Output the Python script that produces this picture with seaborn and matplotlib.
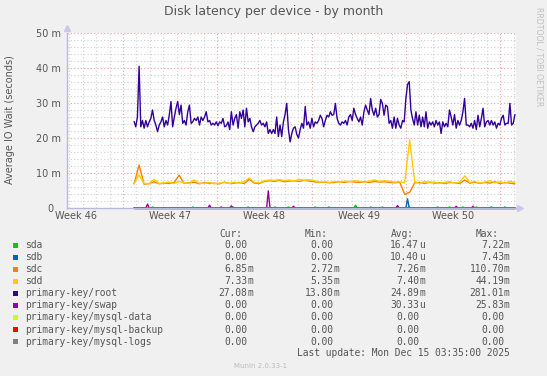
import numpy as np
import matplotlib.pyplot as plt
import seaborn as sns
from matplotlib.patches import Rectangle
from matplotlib.ticker import FixedLocator, MultipleLocator
from matplotlib.transforms import blended_transform_factory

sns.set_theme(style="white")
plt.rcParams['font.family'] = ['DejaVu Sans']

W, H = 547, 376

# time axis: days counted from monday of week 46
x_left, x_right = 2.84, 36.18
data_start, data_end = 7.82, 36.1
week_numbers = [46, 47, 48, 49, 50]
week_starts = [7, 14, 21, 28, 35]

# values in milliseconds (about every 3 hours)
root = [24.7, 23.2, 26, 40.5, 23.2, 25, 22.8, 25, 23.2, 24.6,
        25.6, 28, 25, 23.7, 21.8, 23.7, 24.6, 26, 23.2, 25,
        23.7, 26.6, 30.4, 23.2, 26, 28.5, 30.4, 26.7, 29.4, 24.2,
        25, 23.7, 27.5, 29.4, 24.2, 24.6, 25.6, 25, 26, 23.7,
        26, 25, 26, 27.5, 24.6, 25, 23.7, 24.2, 23.7, 24.6,
        23.5, 24.6, 24.2, 25.6, 23.2, 23.5, 24.6, 22.4, 27.5, 23.7,
        25.6, 26.7, 22.8, 27.5, 25.6, 28, 23.2, 28.5, 24.6, 25.6,
        23.2, 21.8, 23.2, 23.7,
        24.2, 25, 23.7, 24.2, 23.2, 24.6, 21.3, 22.4, 21.3, 22.4,
        21.3, 26, 20.4, 23.7, 20.4, 24.6, 26.7, 29.9, 22.4, 18.9,
        21.3, 22.8, 23.2, 21, 20, 22.4, 24.2, 22.8, 29, 23.7,
        24.6, 22.8, 25.6, 23.2, 24.6, 24.2, 25, 26.5, 25.6, 23.2,
        25, 26.5, 26, 27.5, 26.5, 26.7, 29.9, 25.6, 24.2, 23.7,
        24.6, 24.2, 25, 23.7, 26, 26.7, 25, 28.5, 26.7, 25.6,
        24.6, 26, 23.7, 27.5, 29.4, 28, 26.7, 31.3, 28, 26.5,
        28.5, 26, 26.7, 31, 29.9, 26.5, 29.4, 29,
        24.2, 25, 22.8, 26, 22.8, 25.6, 23.7, 22.8, 25, 24.6,
        31.3, 35.3, 36.1, 28, 25.5, 23.7, 27.5, 23.7, 26.5, 23.2,
        26, 23.2, 27.5, 22.8, 24.6, 23.7, 24.6, 23.2, 25, 23.7,
        24.6, 21.3, 24.6, 23.2, 24.2, 23.2, 28, 26, 23.7, 26.7,
        22.8, 25, 23.7, 25, 27.5, 31.3, 23.7, 23.7, 23.2, 24.2,
        22.8, 25, 22.4, 26.5, 23.2, 25.6, 28.5, 23.2, 24.6, 25,
        23.7, 25, 23.7, 24.6, 22.8, 24.2, 23.7, 25.6, 26.5, 23.7,
        24.2, 24.2, 29.9, 23.7, 24.2, 26.7]

# sdc / sdd about every 9 hours
sdc = [6.9, 12.3, 6.8, 7.0, 7.5, 6.9, 7.1, 7.0, 7.3, 9.4,
       7.0, 7.2, 7.4, 6.9, 7.2, 7.0, 7.1, 6.9, 7.4, 7.0,
       7.1, 7.3, 7.0, 8.2, 7.1, 7.0, 7.6, 7.8, 7.6, 7.9,
       7.5, 7.7, 7.8, 7.6, 7.9, 7.7, 7.5, 7.3, 7.4, 7.2,
       7.3, 7.5, 7.3, 7.6, 7.4, 7.3, 7.5, 7.3, 7.6, 7.4,
       7.5, 7.3, 7.2, 7.4, 3.9, 4.5, 7.2, 7.3, 7.0, 7.4,
       7.1, 7.2, 7.0, 7.3, 7.2, 7.0, 8.0, 7.1, 7.4, 7.0,
       7.3, 7.1, 7.5, 7.0, 7.3, 7.1, 6.9]
sdd = [7.0, 9.5, 7.0, 6.9, 8.2, 7.0, 7.2, 7.4, 7.0, 7.6,
       7.2, 7.0, 8.0, 7.1, 7.0, 7.3, 6.9, 7.1, 7.3, 7.0,
       7.4, 7.1, 7.6, 8.6, 7.3, 7.2, 7.8, 8.0, 7.9, 8.1,
       7.8, 8.0, 7.7, 8.2, 7.9, 8.1, 7.8, 7.4, 7.5, 7.3,
       7.6, 7.4, 7.7, 7.5, 7.8, 7.6, 7.4, 7.7, 8.0, 7.6,
       7.8, 7.6, 7.4, 7.5, 7.2, 19.4, 7.5, 7.0, 7.6, 7.2,
       7.4, 7.0, 7.3, 7.5, 7.1, 7.4, 9.2, 7.3, 7.6, 7.1,
       7.4, 7.8, 7.2, 7.5, 7.1, 7.6, 7.3]

# short blips on the zero line (day, value)
swap_day = [8.86, 13.46, 14.28, 15.09, 17.76, 19.62, 27.42, 31.72, 32.98]
swap_val = [1.1, 0.8, 0.3, 0.6, 4.9, 0.5, 0.7, 0.5, 0.5]
sdb_day = [28.08]
sdb_val = [2.6]
sda_day = [9.23, 12.2, 15.17, 16.28, 18.28, 19.25, 21.25, 22.22, 24.22, 25.34,
           26.3, 27.42, 28.3, 30.31, 31.28, 32.24, 33.28, 34.39, 35.36]
sda_val = [0.3, 0.3, 0.3, 0.3, 0.3, 0.3, 0.3, 0.3, 0.8, 0.3,
           0.3, 0.3, 0.3, 0.3, 0.3, 0.3, 0.3, 0.3, 0.3]

names = ["sda", "sdb", "sdc", "sdd", "primary-key/root", "primary-key/swap",
         "primary-key/mysql-data", "primary-key/mysql-backup", "primary-key/mysql-logs"]
colors = ["#00CC00", "#0066B3", "#FF8000", "#FFCC00", "#330099", "#990099",
          "#CCFF00", "#FF0000", "#808080"]
cur_vals = ["0.00", "0.00", "6.85m", "7.33m", "27.08m", "0.00", "0.00", "0.00", "0.00"]
min_vals = ["0.00", "0.00", "2.72m", "5.35m", "13.80m", "0.00", "0.00", "0.00", "0.00"]
avg_vals = ["16.47u", "10.40u", "7.26m", "7.40m", "24.89m", "30.33u", "0.00", "0.00", "0.00"]
max_vals = ["7.22m", "7.43m", "110.70m", "44.19m", "281.01m", "25.83m", "0.00", "0.00", "0.00"]
y_ticks = [0, 10, 20, 30, 40, 50]

t_fine = np.linspace(data_start, data_end, len(root))
t_coarse = np.linspace(data_start, data_end, len(sdd))


def blips(days, vals):
    s = np.zeros(len(t_fine))
    for d, v in zip(days, vals):
        s[np.abs(t_fine - d).argmin()] = v
    return s


series = [
    (t_fine, blips(sda_day, sda_val)),
    (t_fine, blips(sdb_day, sdb_val)),
    (t_coarse, np.array(sdc)),
    (t_coarse, np.array(sdd)),
    (t_fine, np.array(root)),
    (t_fine, blips(swap_day, swap_val)),
    (t_coarse, np.zeros(len(t_coarse))),
    (t_coarse, np.zeros(len(t_coarse))),
    (t_coarse, np.zeros(len(t_coarse))),
]

fig = plt.figure(figsize=(W / 100, H / 100), dpi=100, facecolor="#F0F0F0")
ax = fig.add_axes([67 / W, 1 - 208 / H, (516 - 67) / W, (208 - 33) / H])
ax.set_facecolor("white")

for (t, v), c in zip(series, colors):
    sns.lineplot(x=t, y=v, color=c, linewidth=1.0, ax=ax, clip_on=False)

ax.set_xlim(x_left, x_right)
ax.set_ylim(0, 50)

# grid like rrdtool: red dotted major, grey dotted minor
ax.xaxis.set_major_locator(FixedLocator(week_starts))
ax.xaxis.set_minor_locator(MultipleLocator(1))
ax.yaxis.set_major_locator(FixedLocator(y_ticks))
ax.yaxis.set_minor_locator(MultipleLocator(2))
ax.grid(which="minor", color="#D0D0D0", linestyle=(0, (1, 2)), linewidth=0.8)
ax.grid(which="major", color="#EFA0A0", linestyle=(0, (1, 2)), linewidth=0.8)
ax.set_axisbelow(True)
ax.set_xticklabels([])
ax.set_yticklabels([f"{v} m" if v else "0  " for v in y_ticks])
ax.tick_params(which="both", length=0)
ax.tick_params(axis="y", labelsize=7, labelcolor="#555555", pad=4.5)

for side in ["top", "right"]:
    ax.spines[side].set_visible(False)
for side in ["left", "bottom"]:
    ax.spines[side].set_color("#B8B8DC")
    ax.spines[side].set_linewidth(1.0)
ax.plot([0], [1.03], marker="^", color="#C8C8EE", markersize=5, transform=ax.transAxes, clip_on=False)
ax.plot([1.01], [0], marker=">", color="#C8C8EE", markersize=5, transform=ax.transAxes, clip_on=False)

trans = blended_transform_factory(ax.transData, ax.transAxes)
for wk, start in zip(week_numbers, week_starts):
    ax.text(start - 3.5, -0.018, f"Week {wk}", transform=trans, ha="center", va="top",
            fontsize=7, color="#555555")

ax.set_ylabel("")
fig.text(10 / W, 1 - 120 / H, "Average IO Wait (seconds)", rotation=90, ha="center", va="center",
         fontsize=7, color="#555555")
fig.text(0.5, 1 - 12 / H, "Disk latency per device - by month", ha="center", va="center",
         fontsize=9, color="#555555")
fig.text(539 / W, 1 - 57 / H, "RRDTOOL / TOBI OETIKER", rotation=-90, ha="center", va="center",
         fontsize=5.6, color="#BFBFBF")

# legend block
mono = "DejaVu Sans Mono"
fs = 6.9
head_x = [219, 305, 391, 476]
num_end = [247.3, 333.3, 419, 504]
for hx, h in zip(head_x, ["Cur:", "Min:", "Avg:", "Max:"]):
    fig.text(hx / W, 1 - 234 / H, h, family=mono, fontsize=fs, color="#555555", va="center")

for i, name in enumerate(names):
    y = 245 + i * 12.08
    fig.patches.append(Rectangle((13 / W, 1 - (y + 2.5) / H), 5 / W, 5 / H,
                                 transform=fig.transFigure, facecolor=colors[i], edgecolor="none"))
    fig.text(25 / W, 1 - y / H, name, family=mono, fontsize=fs, color="#555555", va="center")
    for col, xe in zip([cur_vals, min_vals, avg_vals, max_vals], num_end):
        s = col[i]
        num, unit = (s[:-1], s[-1]) if s[-1].isalpha() else (s, "")
        fig.text(xe / W, 1 - y / H, num, family=mono, fontsize=fs, color="#555555",
                 ha="right", va="center")
        if unit:
            fig.text(xe / W, 1 - y / H, unit, family=mono, fontsize=fs, color="#555555",
                     ha="left", va="center")

fig.text(510 / W, 1 - 353 / H, "Last update: Mon Dec 15 03:35:00 2025", family=mono, fontsize=fs,
         color="#555555", ha="right", va="center")
fig.text(261 / W, 1 - 366 / H, "Munin 2.0.33-1", fontsize=5, color="#BBBBBB", ha="center", va="center")

plt.savefig("out.png", dpi=100, facecolor=fig.get_facecolor())
